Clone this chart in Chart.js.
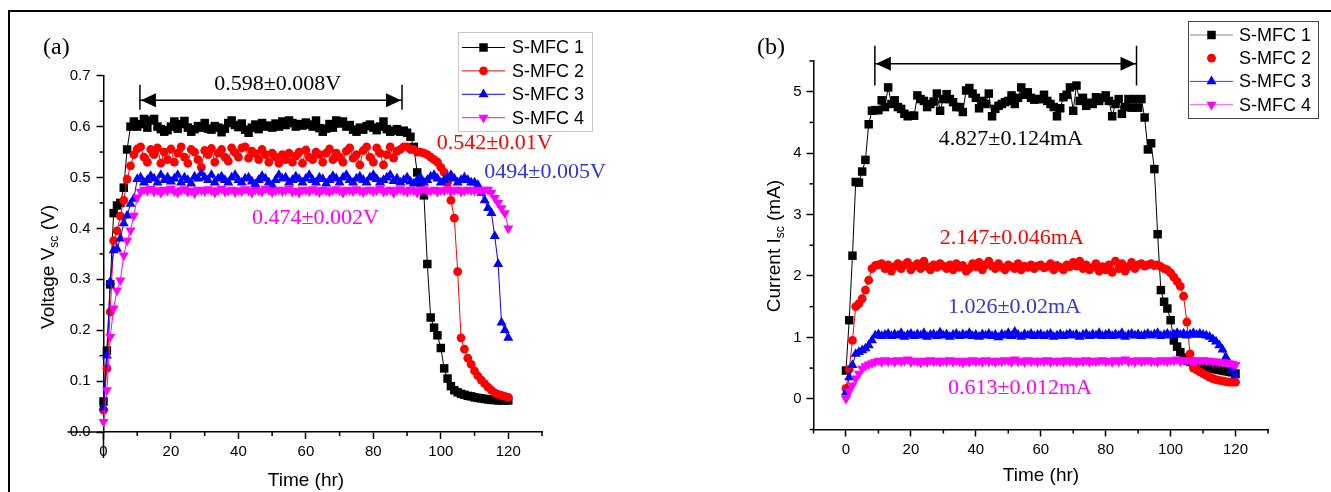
<!DOCTYPE html>
<html>
<head>
<meta charset="utf-8">
<title>S-MFC voltage and current</title>
<script src="https://cdn.jsdelivr.net/npm/chart.js@4.4.0/dist/chart.umd.min.js"></script>
<style>
body { margin: 0; background: #fff; }
#page { position: relative; width: 1331px; height: 492px; overflow: hidden; }
#frame { position: absolute; left: 8px; top: 10px; right: -10px; bottom: -10px; border-top: 2px solid #000; border-left: 2px solid #000; }
#chartA { position: absolute; left: 0; top: 0; }
#chartB { position: absolute; left: 620px; top: 0; }
</style>
</head>
<body>
<div id="page">
  <div id="frame"></div>
  <canvas id="chartA" width="620" height="492"></canvas>
  <canvas id="chartB" width="711" height="492"></canvas>
</div>
<script>
// time axis (hr)
const hours = [
  0,1,2,3,4,5,6,7,8,9,10,11,12,13,14,15,16,17,18,19,
  20,21,22,23,24,25,26,27,28,29,30,31,32,33,34,35,36,37,38,39,
  40,41,42,43,44,45,46,47,48,49,50,51,52,53,54,55,56,57,58,59,
  60,61,62,63,64,65,66,67,68,69,70,71,72,73,74,75,76,77,78,79,
  80,81,82,83,84,85,86,87,88,89,90,91,92,93,94,95,96,97,98,99,
  100,101,102,103,104,105,106,107,108,109,110,111,112,113,114,115,116,117,118,119,120
];

const seriesNames = ['S-MFC 1', 'S-MFC 2', 'S-MFC 3', 'S-MFC 4'];

// (a) voltage Vsc (V)
const voltMFC1 = [
  0.06, 0.16, 0.29, 0.43, 0.445, 0.45, 0.48, 0.555, 0.60, 0.61,
  0.60, 0.605, 0.615, 0.598, 0.612, 0.615, 0.60, 0.595, 0.59, 0.593,
  0.60, 0.61, 0.596, 0.605, 0.611, 0.598, 0.59, 0.595, 0.601, 0.598,
  0.607, 0.596, 0.594, 0.601, 0.598, 0.589, 0.596, 0.607, 0.612, 0.603,
  0.599, 0.606, 0.594, 0.588, 0.598, 0.604, 0.595, 0.607, 0.60, 0.602,
  0.598, 0.606, 0.60, 0.61, 0.603, 0.612, 0.607, 0.60, 0.605, 0.602,
  0.608, 0.604, 0.60, 0.612, 0.597, 0.59, 0.596, 0.605, 0.598, 0.612,
  0.606, 0.61, 0.60, 0.603, 0.594, 0.59, 0.598, 0.594, 0.601, 0.604,
  0.598, 0.593, 0.60, 0.61, 0.595, 0.59, 0.592, 0.595, 0.59, 0.592,
  0.588, 0.58, 0.56, 0.51, 0.49, 0.465, 0.33, 0.225, 0.205, 0.19,
  0.165, 0.125, 0.105, 0.09, 0.082, 0.078, 0.075, 0.073, 0.071, 0.07,
  0.068, 0.067, 0.066, 0.065, 0.064, 0.063, 0.063, 0.062, 0.062, 0.062,
  0.062
];
const voltMFC2 = [
  0.043, 0.125, 0.236, 0.376, 0.395, 0.424, 0.455, 0.497, 0.523, 0.545,
  0.556, 0.56, 0.54, 0.53, 0.555, 0.545, 0.558, 0.528, 0.55, 0.535,
  0.556, 0.53, 0.548, 0.56, 0.54, 0.528, 0.555, 0.55, 0.535, 0.52,
  0.553, 0.545, 0.557, 0.53, 0.548, 0.555, 0.54, 0.532, 0.558, 0.549,
  0.54, 0.558, 0.56, 0.538, 0.552, 0.547, 0.535, 0.555, 0.545, 0.53,
  0.548, 0.54, 0.528, 0.545, 0.535, 0.548, 0.53, 0.542, 0.55, 0.528,
  0.554, 0.54, 0.535, 0.55, 0.545, 0.53, 0.548, 0.556, 0.535, 0.548,
  0.54, 0.53, 0.552, 0.558, 0.538, 0.545, 0.525, 0.553, 0.56, 0.54,
  0.53, 0.558, 0.548, 0.525, 0.545, 0.56, 0.538, 0.552, 0.555, 0.56,
  0.56, 0.555, 0.555, 0.55, 0.55, 0.548, 0.545, 0.54, 0.535, 0.53,
  0.52, 0.51, 0.49, 0.455, 0.42, 0.315, 0.185, 0.163, 0.145, 0.133,
  0.12, 0.11, 0.102, 0.095, 0.088, 0.082, 0.077, 0.074, 0.072, 0.07,
  0.068
];
const voltMFC3 = [
  0.048, 0.15, 0.295, 0.357, 0.36, 0.38, 0.41, 0.425, 0.448, 0.458,
  0.497, 0.5, 0.49, 0.495, 0.503, 0.498, 0.49, 0.505, 0.495, 0.5,
  0.492, 0.498, 0.505, 0.49, 0.5, 0.495, 0.488, 0.502, 0.498, 0.508,
  0.5, 0.495, 0.505, 0.49, 0.498, 0.502, 0.495, 0.49, 0.5, 0.505,
  0.495, 0.49, 0.498, 0.5, 0.492, 0.487, 0.495, 0.503, 0.498, 0.49,
  0.485, 0.495, 0.505, 0.498, 0.5, 0.49, 0.495, 0.502, 0.497, 0.49,
  0.498, 0.505, 0.495, 0.49, 0.5, 0.497, 0.488, 0.495, 0.503, 0.498,
  0.49, 0.5, 0.505, 0.495, 0.49, 0.498, 0.502, 0.495, 0.49, 0.5,
  0.505, 0.497, 0.49, 0.495, 0.5, 0.505, 0.493, 0.498, 0.49, 0.495,
  0.5, 0.492, 0.488, 0.495, 0.5, 0.49, 0.495, 0.502, 0.505, 0.498,
  0.49, 0.495, 0.5, 0.505, 0.498, 0.49, 0.495, 0.5, 0.495, 0.49,
  0.49, 0.485, 0.47, 0.455, 0.44, 0.43, 0.385, 0.33, 0.215, 0.2,
  0.185
];
const voltMFC4 = [
  0.02, 0.082, 0.187, 0.243, 0.278, 0.298, 0.347, 0.376, 0.396, 0.425,
  0.461, 0.472, 0.476, 0.474, 0.478, 0.472, 0.475, 0.47, 0.476, 0.474,
  0.478, 0.473, 0.47, 0.475, 0.477, 0.472, 0.474, 0.469, 0.476, 0.475,
  0.473, 0.477, 0.474, 0.47, 0.475, 0.478, 0.472, 0.474, 0.476, 0.471,
  0.475, 0.473, 0.477, 0.474, 0.47, 0.476, 0.474, 0.472, 0.478, 0.475,
  0.471, 0.474, 0.476, 0.473, 0.475, 0.478, 0.472, 0.474, 0.47, 0.476,
  0.475, 0.473, 0.477, 0.474, 0.471, 0.476, 0.474, 0.472, 0.475, 0.477,
  0.474, 0.47, 0.476, 0.475, 0.473, 0.477, 0.474, 0.471, 0.475, 0.476,
  0.473, 0.475, 0.478, 0.472, 0.474, 0.476, 0.47, 0.475, 0.477, 0.474,
  0.472, 0.476, 0.474, 0.47, 0.475, 0.477, 0.473, 0.474, 0.476, 0.472,
  0.475, 0.474, 0.477, 0.473, 0.475, 0.476, 0.472, 0.474, 0.476, 0.475,
  0.474, 0.476, 0.475, 0.476, 0.476, 0.47, 0.46, 0.45, 0.44, 0.43,
  0.40
];

// (b) current Isc (mA)
const currMFC1 = [
  0.46, 1.28, 2.33, 3.53, 3.52, 3.7, 3.89, 4.47, 4.69, 4.7,
  4.7, 4.86, 4.75, 5.07, 4.8, 4.86, 4.75, 4.72, 4.64, 4.6,
  4.61, 4.61, 4.94, 4.88, 4.85, 4.75, 4.8, 4.84, 4.97, 4.69,
  4.88, 4.96, 4.88, 4.83, 4.75, 4.75, 4.67, 5.02, 5.06, 4.97,
  4.9, 4.73, 4.85, 4.8, 4.97, 4.6, 4.72, 4.77, 4.8, 4.83,
  4.85, 4.94, 4.8, 4.9, 5.07, 4.95, 4.99, 4.9, 4.87, 4.88,
  4.88, 4.95, 4.85, 4.8, 4.75, 4.6, 4.73, 4.91, 4.95, 5.07,
  4.69, 5.1, 4.85, 4.9, 4.77, 4.82, 4.8, 4.91, 4.85, 4.9,
  4.94, 4.85, 4.6, 4.8, 4.88, 4.64, 4.75, 4.88, 4.74, 4.88,
  4.74, 4.88, 4.58, 4.06, 4.16, 3.74, 2.68, 1.77, 1.58, 1.47,
  1.28, 0.95, 0.85, 0.76, 0.67, 0.62, 0.6, 0.58, 0.56, 0.55,
  0.53, 0.52, 0.5, 0.49, 0.48, 0.47, 0.46, 0.45, 0.44, 0.43,
  0.41
];
const currMFC2 = [
  0.17, 0.48, 0.95, 1.5, 1.55, 1.63, 1.77, 1.93, 2.12, 2.17,
  2.18, 2.2, 2.12, 2.18, 2.08, 2.15, 2.2, 2.12, 2.18, 2.22,
  2.1, 2.16, 2.2, 2.12, 2.24, 2.15, 2.1, 2.18, 2.14, 2.2,
  2.16, 2.12, 2.18, 2.1, 2.2, 2.14, 2.17, 2.08, 2.12, 2.2,
  2.15, 2.22, 2.1, 2.18, 2.24, 2.16, 2.12, 2.2, 2.14, 2.1,
  2.18, 2.15, 2.12, 2.2, 2.1, 2.16, 2.14, 2.18, 2.12, 2.16,
  2.18, 2.13, 2.15, 2.2, 2.1, 2.17, 2.14, 2.1, 2.18, 2.15,
  2.22, 2.16, 2.24, 2.12, 2.18, 2.1, 2.14, 2.2, 2.08, 2.15,
  2.1, 2.18, 2.06, 2.24, 2.12, 2.2, 2.08, 2.15, 2.22, 2.12,
  2.18, 2.2, 2.16, 2.18, 2.2, 2.17, 2.18, 2.15, 2.12, 2.1,
  2.05, 1.98, 1.91, 1.83, 1.67, 1.25, 0.73, 0.5, 0.47, 0.44,
  0.41, 0.38, 0.35, 0.33, 0.31, 0.3, 0.29, 0.28, 0.27, 0.27,
  0.27
];
const currMFC3 = [
  0.1, 0.35, 0.55, 0.73, 0.76, 0.79, 0.82, 0.87, 0.95, 1.03,
  1.05, 1.02, 1.04, 1.06, 1.02, 1.05, 1.03, 1.07, 1.01, 1.04,
  1.06, 1.02, 1.05, 1.03, 1.07, 1.01, 1.04, 1.05, 1.02, 1.08,
  1.03, 1.05, 1.01, 1.04, 1.06, 1.02, 1.05, 1.03, 1.07, 1.02,
  1.04, 1.01, 1.05, 1.03, 1.06, 1.02, 1.04, 1.0, 1.05, 1.03,
  1.07, 1.02, 1.09, 1.04, 1.01, 1.05, 1.03, 1.06, 1.02, 1.04,
  1.05, 1.02, 1.04, 1.06, 1.01, 1.03, 1.05, 1.02, 1.04, 1.06,
  1.03, 1.05, 1.01, 1.04, 1.06, 1.02, 1.05, 1.03, 1.07, 1.02,
  1.04, 1.06, 1.02, 1.05, 1.03, 1.07, 1.01, 1.04, 1.06, 1.03,
  1.05, 1.02, 1.04, 1.06, 1.03, 1.05, 1.07, 1.02, 1.04, 1.06,
  1.03, 1.05, 1.07, 1.04, 1.06, 1.03, 1.05, 1.07, 1.04, 1.06,
  1.04, 1.03, 1.01, 0.97, 0.93, 0.87, 0.8, 0.68, 0.58, 0.47,
  0.38
];
const currMFC4 = [
  0.0, 0.12, 0.22, 0.33, 0.41, 0.49, 0.53, 0.56, 0.58, 0.6,
  0.62, 0.6, 0.63, 0.61, 0.62, 0.6, 0.63, 0.61, 0.62, 0.64,
  0.6, 0.62, 0.61, 0.59, 0.62, 0.6, 0.63, 0.61, 0.62, 0.6,
  0.62, 0.61, 0.63, 0.6, 0.62, 0.61, 0.59, 0.62, 0.6, 0.63,
  0.61, 0.62, 0.6, 0.63, 0.61, 0.62, 0.6, 0.62, 0.61, 0.63,
  0.62, 0.6, 0.64, 0.61, 0.62, 0.6, 0.63, 0.61, 0.62, 0.6,
  0.62, 0.61, 0.63, 0.6, 0.62, 0.61, 0.62, 0.6, 0.63, 0.61,
  0.62, 0.6, 0.62, 0.61, 0.63, 0.6, 0.62, 0.61, 0.62, 0.63,
  0.61, 0.62, 0.6, 0.63, 0.61, 0.62, 0.64, 0.61, 0.62, 0.6,
  0.63, 0.61, 0.62, 0.63, 0.61, 0.62, 0.6, 0.63, 0.62, 0.61,
  0.63, 0.62, 0.64, 0.61, 0.63, 0.62, 0.63, 0.61, 0.63, 0.62,
  0.63, 0.62, 0.62, 0.61, 0.61, 0.6, 0.6, 0.59, 0.58, 0.57,
  0.55
];

// tick values
const timeTicks = [0, 20, 40, 60, 80, 100, 120];
const timeMinorA = [10, 30, 50, 70, 90, 110, 130];
const timeMinorB = [-10, 10, 30, 50, 70, 90, 110, 130];
const voltTicks = [0, 0.1, 0.2, 0.3, 0.4, 0.5, 0.6, 0.7];
const voltMinor = [0.05, 0.15, 0.25, 0.35, 0.45, 0.55, 0.65];
const currTicks = [0, 1, 2, 3, 4, 5];
const currMinor = [-0.5, 0.5, 1.5, 2.5, 3.5, 4.5, 5.5];

// annotation text and where it sits (data units)
const notesA = [
  { text: '0.598\u00b10.008V', x: 32.8, y: 0.684, color: '#000000' },
  { text: '0.542\u00b10.01V', x: 98.8, y: 0.568, color: '#ff0000' },
  { text: '0494\u00b10.005V', x: 112.9, y: 0.511, color: '#3333dd' },
  { text: '0.474\u00b10.002V', x: 44.0, y: 0.420, color: '#ff00ff' }
];
const notesB = [
  { text: '4.827\u00b10.124mA', x: 28.6, y: 4.23, color: '#000000' },
  { text: '2.147\u00b10.046mA', x: 28.9, y: 2.62, color: '#ff0000' },
  { text: '1.026\u00b10.02mA', x: 31.4, y: 1.49, color: '#3333dd' },
  { text: '0.613\u00b10.012mA', x: 31.4, y: 0.17, color: '#ff00ff' }
];
const arrowA = { from: 10.8, to: 88.5, at: 0.652, barTop: 0.682, barBottom: 0.633 };
const arrowB = { from: 8.9, to: 89.5, at: 5.455, barTop: 5.75, barBottom: 5.10 };

const SANS = '"Liberation Sans", Arial, sans-serif';
const SERIF = '"Liberation Serif", "Times New Roman", serif';
const colors = ['#000000', '#ff0000', '#0000ff', '#ff00ff'];
const styles = ['rect', 'circle', 'triangle', 'triangle'];
const rotations = [0, 0, 0, 180];
const radii = [6, 4.4, 5.8, 5.8];

function marker(ctx, i, x, y) {
  const r = radii[i];
  ctx.fillStyle = colors[i];
  ctx.beginPath();
  if (styles[i] === 'rect') {
    const s = r * Math.SQRT1_2;
    ctx.rect(x - s, y - s, 2 * s, 2 * s);
  } else if (styles[i] === 'circle') {
    ctx.arc(x, y, r, 0, Math.PI * 2);
  } else {
    const d = rotations[i] ? -1 : 1;
    ctx.moveTo(x, y - d * r);
    ctx.lineTo(x + r * 0.866, y + d * r / 2);
    ctx.lineTo(x - r * 0.866, y + d * r / 2);
    ctx.closePath();
  }
  ctx.fill();
}

function makeSets(list) {
  return list.map((vals, i) => ({
    label: seriesNames[i],
    data: hours.map((h, j) => ({ x: h, y: vals[j] })),
    borderColor: colors[i],
    backgroundColor: colors[i],
    borderWidth: 1,
    pointStyle: styles[i],
    pointRotation: rotations[i],
    pointRadius: radii[i],
    pointBorderWidth: 0,
    tension: 0,
    clip: false,
    order: 4 - i
  }));
}

function makeDecor(cfg) {
  return {
    id: 'decor' + cfg.tag,
    afterDraw(chart) {
      const ctx = chart.ctx;
      const xs = chart.scales.x, ys = chart.scales.y;
      const area = chart.chartArea;
      ctx.save();

      // minor ticks
      ctx.strokeStyle = '#000';
      ctx.lineWidth = 1.5;
      cfg.minorX.forEach(v => {
        const px = xs.getPixelForValue(v);
        ctx.beginPath(); ctx.moveTo(px, area.bottom); ctx.lineTo(px, area.bottom + 4); ctx.stroke();
      });
      cfg.minorY.forEach(v => {
        const py = ys.getPixelForValue(v);
        ctx.beginPath(); ctx.moveTo(area.left, py); ctx.lineTo(area.left - 4, py); ctx.stroke();
      });
      if (cfg.extendAxes) {
        ctx.beginPath();
        ctx.moveTo(area.left - 36, area.bottom); ctx.lineTo(area.left, area.bottom);
        ctx.moveTo(area.left, area.bottom); ctx.lineTo(area.left, area.bottom + 26);
        ctx.stroke();
      }

      // double arrow
      const a = cfg.arrow;
      const x0 = xs.getPixelForValue(a.from), x1 = xs.getPixelForValue(a.to);
      const ay = ys.getPixelForValue(a.at);
      const yt = ys.getPixelForValue(a.barTop), yb = ys.getPixelForValue(a.barBottom);
      ctx.lineWidth = 1.5;
      ctx.beginPath();
      ctx.moveTo(x0, ay); ctx.lineTo(x1, ay);
      ctx.moveTo(x0, yt); ctx.lineTo(x0, yb);
      ctx.moveTo(x1, yt); ctx.lineTo(x1, yb);
      ctx.stroke();
      ctx.fillStyle = '#000';
      ctx.beginPath();
      ctx.moveTo(x0 + 1, ay); ctx.lineTo(x0 + 16, ay - 7); ctx.lineTo(x0 + 16, ay + 7); ctx.closePath();
      ctx.moveTo(x1 - 1, ay); ctx.lineTo(x1 - 16, ay - 7); ctx.lineTo(x1 - 16, ay + 7); ctx.closePath();
      ctx.fill();

      // value notes
      ctx.font = '22px ' + SERIF;
      ctx.textAlign = 'left';
      ctx.textBaseline = 'middle';
      cfg.notes.forEach(n => {
        ctx.fillStyle = n.color;
        ctx.fillText(n.text, xs.getPixelForValue(n.x), ys.getPixelForValue(n.y));
      });

      // panel letter
      ctx.fillStyle = '#000';
      ctx.font = '24px ' + SERIF;
      ctx.fillText(cfg.letter.text, cfg.letter.x, cfg.letter.y);

      // axis titles
      ctx.font = '19px ' + SANS;
      ctx.textAlign = 'center';
      ctx.fillText('Time (hr)', cfg.xTitle.x, cfg.xTitle.y);
      const t = cfg.yTitle;
      ctx.translate(t.x, t.y);
      ctx.rotate(-Math.PI / 2);
      ctx.textAlign = 'left';
      ctx.font = '19px ' + SANS;
      const w1 = ctx.measureText(t.main).width, w3 = ctx.measureText(t.tail).width;
      ctx.font = '12px ' + SANS;
      const w2 = ctx.measureText(t.sub).width;
      let tx = -(w1 + w2 + w3) / 2;
      ctx.font = '19px ' + SANS; ctx.fillText(t.main, tx, 0); tx += w1;
      ctx.font = '12px ' + SANS; ctx.fillText(t.sub, tx, 6); tx += w2;
      ctx.font = '19px ' + SANS; ctx.fillText(t.tail, tx, 0);
      ctx.setTransform(1, 0, 0, 1, 0, 0);

      // legend
      const L = cfg.legend;
      ctx.fillStyle = '#fff';
      ctx.fillRect(L.x, L.y, L.w, L.h);
      ctx.strokeStyle = L.box;
      ctx.lineWidth = 1;
      ctx.strokeRect(L.x + 0.5, L.y + 0.5, L.w, L.h);
      seriesNames.forEach((name, i) => {
        const y = L.row0 + i * L.step;
        if (L.lines[i]) {
          ctx.strokeStyle = L.lines[i];
          ctx.beginPath(); ctx.moveTo(L.x0, y); ctx.lineTo(L.x1, y); ctx.stroke();
        }
        marker(ctx, i, (L.x0 + L.x1) / 2, y);
        ctx.fillStyle = '#000';
        ctx.font = '18px ' + SANS;
        ctx.textAlign = 'left';
        ctx.textBaseline = 'middle';
        ctx.fillText(name, L.tx, y + 1);
      });
      ctx.restore();
    }
  };
}

function axisX(min, max, height) {
  return {
    type: 'linear', min: min, max: max,
    afterFit: s => { s.height = height; },
    afterBuildTicks: s => { s.ticks = timeTicks.map(v => ({ value: v })); },
    ticks: { color: '#000', font: { family: SANS, size: 15 }, padding: 4, maxRotation: 0, autoSkip: false, callback: v => String(v) },
    grid: { drawOnChartArea: false, drawTicks: true, tickLength: 7, tickColor: '#000', tickWidth: 1.5 },
    border: { display: true, color: '#000', width: 1.5 }
  };
}
function axisY(min, max, width, ticks, fmt, pad) {
  return {
    min: min, max: max,
    afterFit: s => { s.width = width; },
    afterBuildTicks: s => { s.ticks = ticks.map(v => ({ value: v })); },
    ticks: { color: '#000', font: { family: SANS, size: 15 }, padding: pad, autoSkip: false, callback: fmt },
    grid: { drawOnChartArea: false, drawTicks: true, tickLength: 7, tickColor: '#000', tickWidth: 1.5 },
    border: { display: true, color: '#000', width: 1.5 }
  };
}

const common = {
  responsive: false,
  animation: false,
  devicePixelRatio: 1,
  plugins: { legend: { display: false }, tooltip: { enabled: false } }
};

new Chart(document.getElementById('chartA'), {
  type: 'line',
  data: { datasets: makeSets([voltMFC1, voltMFC2, voltMFC3, voltMFC4]) },
  options: Object.assign({}, common, {
    layout: { padding: { left: 0, top: 75.7, right: 78, bottom: 0 } },
    scales: {
      x: axisX(0, 130, 60),
      y: axisY(0, 0.7, 103.5, voltTicks, v => v.toFixed(1), 6)
    }
  }),
  plugins: [makeDecor({
    tag: 'A', minorX: timeMinorA, minorY: voltMinor, extendAxes: true,
    arrow: arrowA, notes: notesA,
    letter: { text: '(a)', x: 43, y: 48 },
    xTitle: { x: 306, y: 481 },
    yTitle: { x: 49, y: 267, main: 'Voltage V', sub: 'sc', tail: ' (V)' },
    legend: { x: 458, y: 32, w: 134, h: 99, row0: 47.5, step: 23.4, x0: 462, x1: 505, tx: 512,
              box: '#c8c8c8', lines: ['#000000', '#ff0000', '#0000ff', '#ff00ff'] }
  })]
});

new Chart(document.getElementById('chartB'), {
  type: 'line',
  data: { datasets: makeSets([currMFC1, currMFC2, currMFC3, currMFC4]) },
  options: Object.assign({}, common, {
    layout: { padding: { left: 0, top: 61, right: 63, bottom: 0 } },
    scales: {
      x: axisX(-10, 130, 62.5),
      y: axisY(-0.5, 5.5, 193.5, currTicks, v => String(v), 5)
    }
  }),
  plugins: [makeDecor({
    tag: 'B', minorX: timeMinorB, minorY: currMinor, extendAxes: false,
    arrow: arrowB, notes: notesB,
    letter: { text: '(b)', x: 137, y: 48 },
    xTitle: { x: 421, y: 476 },
    yTitle: { x: 155, y: 246, main: 'Current I', sub: 'sc', tail: ' (mA)' },
    legend: { x: 568, y: 21, w: 130, h: 97, row0: 35, step: 23.2, x0: 570, x1: 613, tx: 619,
              box: '#444444', lines: ['#888888', null, '#3b3bff', '#ff66ff'] }
  })]
});
</script>
</body>
</html>
